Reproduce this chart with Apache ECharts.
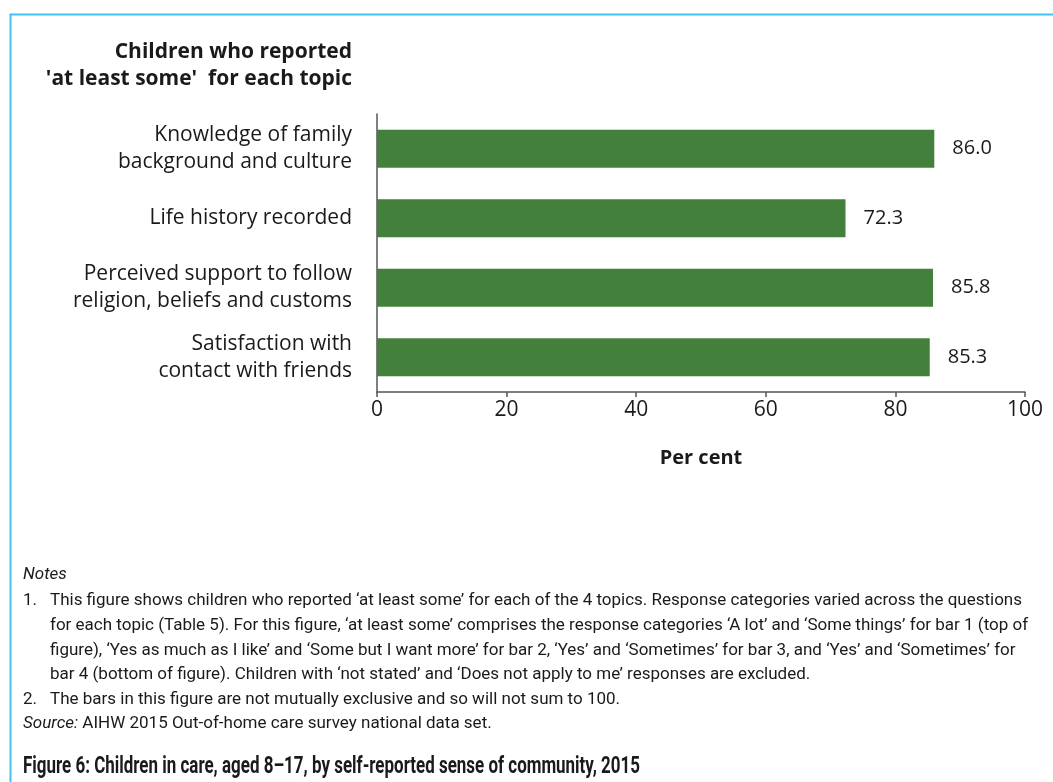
<!DOCTYPE html>
<html>
<head>
<meta charset="utf-8">
<script src="https://cdn.jsdelivr.net/npm/echarts@6/dist/echarts.min.js"></script>
<style>
html,body{margin:0;padding:0;background:#fff;}
#main{width:1053px;height:782px;}
</style>
</head>
<body>
<div id="main"></div>
<script>
// ---- data ----
const categories = [
  'Knowledge of family\nbackground and culture',
  'Life history recorded',
  'Perceived support to follow\nreligion, beliefs and customs',
  'Satisfaction with\ncontact with friends'
];
const values = [86.0, 72.3, 85.8, 85.3];
const axisTitle = "Children who reported\n'at least some'  for each topic";
const xAxisName = 'Per cent';
const noteLines = [
  'This figure shows children who reported \u2018at least some\u2019 for each of the 4 topics. Response categories varied across the questions',
  'for each topic (Table 5). For this figure, \u2018at least some\u2019 comprises the response categories \u2018A lot\u2019 and \u2018Some things\u2019 for bar 1 (top of',
  'figure), \u2018Yes as much as I like\u2019 and \u2018Some but I want more\u2019 for bar 2, \u2018Yes\u2019 and \u2018Sometimes\u2019 for bar 3, and \u2018Yes\u2019 and \u2018Sometimes\u2019 for',
  'bar 4 (bottom of figure). Children with \u2018not stated\u2019 and \u2018Does not apply to me\u2019 responses are excluded.'
];
const note2 = 'The bars in this figure are not mutually exclusive and so will not sum to 100.';
const sourceText = ' AIHW 2015 Out-of-home care survey national data set.';
const figTitle = 'Figure 6: Children in care, aged 8\u201317, by self-reported sense of community, 2015';

// ---- measurement helpers for condensed text ----
const NOTE_FONT = 'Roboto';
const NOTE_SIZE = 17;
const TITLE_SIZE = 23;
const cv = document.createElement('canvas').getContext('2d');
function measure(t, font){ cv.font = font; return cv.measureText(t).width; }
const noteScale = 972 / measure(noteLines[0], NOTE_SIZE + 'px ' + NOTE_FONT);
const titleScale = 617 / measure(figTitle, 'bold ' + TITLE_SIZE + 'px ' + NOTE_FONT);

const textColor = '#1a1a1a';
const labelFont = '"Open Sans"';
const graphics = [];
graphics.push({type:'rect', shape:{x:10.5, y:14.5, width:1100, height:900},
  style:{fill:'none', stroke:'#3ec3f3', lineWidth:2}, silent:true});
graphics.push({type:'text', x:352, y:66, style:{text:axisTitle, font:'bold 21px ' + labelFont, fill:textColor,
  textAlign:'right', textVerticalAlign:'middle', lineHeight:27}});
function noteText(txt, x, y, opts){
  opts = opts || {};
  return {type:'text', x:x, y:y, scaleX: opts.scale || noteScale, style:{text:txt,
    font:(opts.style||'') + ' ' + (opts.size||NOTE_SIZE) + 'px ' + NOTE_FONT,
    fill:textColor, textAlign:'left', textVerticalAlign:'middle'}};
}
graphics.push(noteText('Notes', 23, 575, {style:'italic'}));
graphics.push(noteText('1.', 23, 601));
const lineYs = [601, 626, 651, 675];
noteLines.forEach((l,i)=>graphics.push(noteText(l, 50, lineYs[i])));
graphics.push(noteText('2.', 23, 700));
graphics.push(noteText(note2, 50, 700));
const srcW = measure('Source:', 'italic ' + NOTE_SIZE + 'px ' + NOTE_FONT) * noteScale;
graphics.push(noteText('Source:', 23, 724, {style:'italic'}));
graphics.push(noteText(sourceText, 23 + srcW, 724));
graphics.push(noteText(figTitle, 23, 767, {style:'bold', size:TITLE_SIZE, scale:titleScale}));

const chart = echarts.init(document.getElementById('main'), null, {renderer:'canvas'});
chart.setOption({
  animation:false,
  backgroundColor:'#ffffff',
  grid:{left:377, right:28, top:114, bottom:390, containLabel:false},
  xAxis:{
    type:'value', min:0, max:100, interval:20,
    name:xAxisName, nameLocation:'middle', nameGap:56,
    nameTextStyle:{fontFamily:'Open Sans', fontWeight:'bold', fontSize:20, color:textColor},
    axisLine:{show:true, lineStyle:{color:'#555', width:1.5}},
    axisTick:{show:true, length:5, lineStyle:{color:'#555', width:1.5}},
    axisLabel:{fontFamily:'Open Sans', fontSize:21, color:textColor, margin:8},
    splitLine:{show:false}
  },
  yAxis:{
    type:'category', data:categories, inverse:true,
    axisLine:{show:true, lineStyle:{color:'#555', width:1.5}},
    axisTick:{show:false},
    axisLabel:{fontFamily:'Open Sans', fontSize:21, color:textColor, margin:25, lineHeight:27, align:'right'}
  },
  series:[{
    type:'bar', data:values, barWidth:'55%',
    itemStyle:{color:'#43803b'},
    label:{show:true, position:'right', distance:18, fontFamily:'Open Sans', fontSize:20, color:textColor,
      formatter:p=>p.value.toFixed(1)}
  }],
  graphic:graphics
});
</script>
</body>
</html>
